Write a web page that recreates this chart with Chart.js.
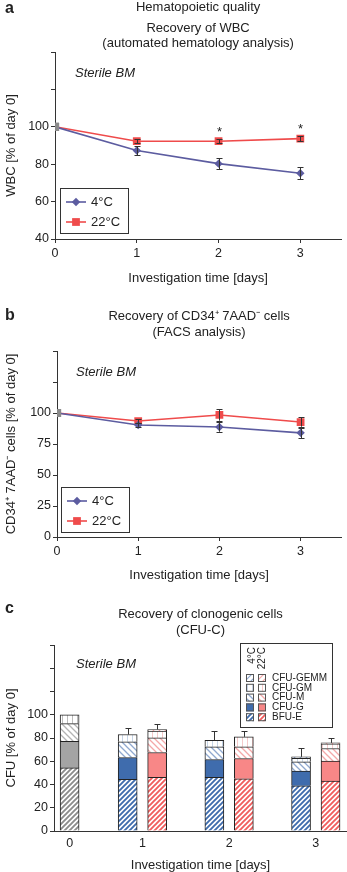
<!DOCTYPE html>
<html>
<head>
<meta charset="utf-8">
<script src="https://cdn.jsdelivr.net/npm/chart.js@4/dist/chart.umd.min.js"></script>
<style>
  body { margin: 0; background: #fff; width: 347px; height: 872px; overflow: hidden; position: relative; }
  .panel { position: absolute; left: 0; width: 347px; }
</style>
</head>
<body>
<div class="panel" style="top:0;height:290px"><canvas id="wbc"></canvas></div>
<div class="panel" style="top:290px;height:300px"><canvas id="cd34"></canvas></div>
<div class="panel" style="top:590px;height:282px"><canvas id="cfu"></canvas></div>

<script>
// ---- data ----
const days = [0, 1, 2, 3];
const seriesNames = ['4°C', '22°C'];

// a: WBC recovery (% of day 0)
const wbc4 = [100, 87.3, 80.3, 75.2];
const wbc4Err = [0, 2.4, 3.1, 3.3];
const wbc22 = [100, 92.3, 92.3, 93.7];
const wbc22Err = [0, 1.1, 1.1, 1.3];
const wbcSignif = [false, false, true, true];

// b: CD34+ 7AAD- cells (% of day 0)
const cd34_4 = [100, 90.3, 88.7, 84.0];
const cd34_4Err = [0, 1.4, 3.8, 4.3];
const cd34_22 = [100, 93.5, 98.4, 92.7];
const cd34_22Err = [0, 1.6, 4.6, 3.8];

// c: CFU-C (% of day 0); day 0 = fresh sample, only one bar
const cfuDays = ['0', '1', '2', '3'];
const cfuParts = ['BFU-E', 'CFU-G', 'CFU-M', 'CFU-GM', 'CFU-GEMM'];
const bfuE4    = [54.3, 44.4, 46.1, 38.9];
const cfuG4    = [22.9, 18.8, 15.4, 12.6];
const cfuM4    = [15.2, 13.5, 10.9, 8.0];
const cfuGM4   = [7.6, 6.3, 5.7, 3.0];
const cfuGEMM4 = [null, null, null, 1.3];
const cfuErr4  = [0, 5.7, 8.0, 7.2];
const bfuE22    = [null, 46.1, 44.9, 42.9];
const cfuG22    = [null, 21.4, 17.5, 17.2];
const cfuM22    = [null, 12.6, 10.0, 10.9];
const cfuGM22   = [null, 5.9, 8.6, 4.0];
const cfuGEMM22 = [null, 1.3, null, 0.8];
const cfuErr22  = [null, 5.1, 5.1, 4.3];

// ---- look ----
const FONT = '"Liberation Sans", Arial, Helvetica, sans-serif';
Chart.defaults.font.family = FONT;
Chart.defaults.font.size = 12;
Chart.defaults.color = '#222';
Chart.defaults.animation = false;
Chart.defaults.plugins.legend.display = false;
Chart.defaults.plugins.tooltip.enabled = false;

const col4 = '#5c5ca0';
const col22 = '#ef4b4b';
const grey0 = '#8a8a8a';

// error bars (line: both ways, bars: upward from stack top)
const errorBars = {
  id: 'errorBars',
  afterDatasetsDraw(chart) {
    const { ctx, scales: { x, y } } = chart;
    ctx.save();
    ctx.strokeStyle = '#333';
    ctx.lineWidth = 1;
    chart.data.datasets.forEach(ds => {
      if (!ds.errorBars) return;
      ds.errorBars.forEach((err, i) => {
        if (!err) return;
        const px = Math.round(x.getPixelForValue(ds.data[i].x)) + 0.5;
        const mid = ds.errTops ? ds.errTops[i] : ds.data[i].y;
        const hi = Math.round(y.getPixelForValue(mid + err)) + 0.5;
        const lo = y.getPixelForValue(ds.errTops ? mid : mid - err);
        ctx.beginPath();
        ctx.moveTo(px, lo); ctx.lineTo(px, hi);
        ctx.moveTo(px - 3, hi); ctx.lineTo(px + 3, hi);
        if (!ds.errTops) { ctx.moveTo(px - 3, Math.round(lo) + 0.5); ctx.lineTo(px + 3, Math.round(lo) + 0.5); }
        ctx.stroke();
        if (ds.signif && ds.signif[i]) {
          ctx.fillStyle = '#222';
          ctx.font = '13px ' + FONT;
          ctx.textAlign = 'center';
          ctx.textBaseline = 'alphabetic';
          ctx.fillText('*', px, hi - 4);
        }
      });
    });
    ctx.restore();
  }
};

// panel letter, headings, note, legends
const decor = {
  id: 'decor',
  afterDraw(chart, args, o) {
    const ctx = chart.ctx, area = chart.chartArea;
    ctx.save();
    ctx.fillStyle = '#222';
    ctx.font = 'bold 16px ' + FONT;
    ctx.textAlign = 'left';
    ctx.textBaseline = 'alphabetic';
    ctx.fillText(o.letter, 5, o.letterY);

    ctx.font = '13px ' + FONT;
    ctx.textAlign = 'center';
    ctx.textBaseline = 'middle';
    const cx = (area.left + area.right) / 2;
    o.heading.forEach(([t, y]) => ctx.fillText(t, cx, y));

    ctx.font = 'italic 13px ' + FONT;
    ctx.textAlign = 'left';
    ctx.fillText('Sterile BM', o.note[0], o.note[1]);

    if (o.legend) {
      const L = o.legend;
      ctx.strokeStyle = '#333';
      ctx.lineWidth = 1;
      ctx.strokeRect(L.x + 0.5, L.y + 0.5, L.w, L.h);
      chart.data.datasets.forEach((ds, k) => {
        const yy = L.y + 14 + k * 20;
        ctx.strokeStyle = ds.borderColor;
        ctx.lineWidth = 1.6;
        ctx.beginPath();
        ctx.moveTo(L.x + 6, yy); ctx.lineTo(L.x + 26, yy);
        ctx.stroke();
        ctx.fillStyle = ds.borderColor;
        Chart.helpers.drawPoint(ctx, { pointStyle: ds.legendStyle, radius: ds.legendRadius, borderWidth: 0, rotation: 0 }, L.x + 16, yy);
        ctx.fillStyle = '#222';
        ctx.font = '13px ' + FONT;
        ctx.fillText(ds.label, L.x + 31, yy);
      });
    }

    if (o.cfuLegend) {
      const L = o.cfuLegend;
      ctx.strokeStyle = '#333';
      ctx.lineWidth = 1;
      ctx.strokeRect(L.x + 0.5, L.y + 0.5, L.w, L.h);
      ctx.font = '10px ' + FONT;
      ctx.fillStyle = '#222';
      seriesNames.forEach((s, k) => {
        ctx.save();
        ctx.translate(L.x + 12 + k * 10, L.y + 4);
        ctx.rotate(-Math.PI / 2);
        ctx.textAlign = 'right';
        ctx.textBaseline = 'middle';
        ctx.fillText(s, 0, 0);
        ctx.restore();
      });
      const rows = cfuParts.slice().reverse();
      rows.forEach((name, r) => {
        const yy = L.y + 35 + r * 9.8;
        [fills4, fills22].forEach((f, k) => {
          const sx = L.x + 6 + k * 12;
          ctx.fillStyle = f[name];
          ctx.fillRect(sx, yy - 4, 8, 8);
          ctx.strokeStyle = '#555';
          ctx.strokeRect(sx + 0.5, yy - 3.5, 7, 7);
        });
        ctx.fillStyle = '#222';
        ctx.textAlign = 'left';
        ctx.textBaseline = 'middle';
        ctx.fillText(name, L.x + 32, yy);
      });
    }
    ctx.restore();
  }
};

function yAxis(min, max, step, title, width) {
  return {
    min, max,
    ticks: { stepSize: step, padding: 2, font: { size: 12.5 }, callback: v => (v <= 100 ? v : '') },
    grid: { drawOnChartArea: false, tickLength: 4, color: '#333' },
    border: { color: '#333' },
    title: { display: true, text: title, font: { size: 13 }, padding: { top: 4, bottom: 0 } },
    afterFit: s => { s.width = width; }
  };
}

function xAxisLine(height, titlePad) {
  return {
    type: 'linear', min: 0, max: 3.5, offset: false,
    ticks: { stepSize: 1, includeBounds: false, padding: 3, font: { size: 12.5 } },
    grid: { drawOnChartArea: false, tickLength: 4, color: '#333', offset: false },
    border: { color: '#333' },
    title: { display: true, text: 'Investigation time [days]', font: { size: 13 }, padding: { top: 0, bottom: titlePad } },
    afterFit: s => { s.height = height; }
  };
}

function lineSet(label, values, errs, color, style, r) {
  return {
    label,
    data: values.map((v, i) => ({ x: days[i], y: v })),
    errorBars: errs,
    borderColor: color,
    borderWidth: 1.6,
    pointStyle: values.map((v, i) => (i === 0 ? 'rect' : style)),
    pointRadius: values.map((v, i) => (i === 0 ? 5.8 : r)),
    pointBackgroundColor: values.map((v, i) => (i === 0 ? grey0 : color)),
    pointBorderColor: values.map((v, i) => (i === 0 ? grey0 : color)),
    pointBorderWidth: 0,
    legendStyle: style,
    legendRadius: r
  };
}

// ---- a ----
const wbc4Set = lineSet(seriesNames[0], wbc4, wbc4Err, col4, 'rectRot', 4.2);
const wbc22Set = lineSet(seriesNames[1], wbc22, wbc22Err, col22, 'rect', 5.5);
wbc22Set.signif = wbcSignif;
new Chart(document.getElementById('wbc'), {
  type: 'line',
  data: { datasets: [wbc4Set, wbc22Set] },
  options: {
    responsive: true, maintainAspectRatio: false,
    layout: { padding: { top: 52, right: 0, bottom: 0, left: 0 } },
    scales: { x: xAxisLine(51, 4), y: yAxis(40, 140, 20, 'WBC [% of day 0]', 55) },
    plugins: {
      decor: {
        letter: 'a', letterY: 13,
        heading: [['Hematopoietic quality', 7], ['Recovery of WBC', 28], ['(automated hematology analysis)', 43]],
        note: [75, 73],
        legend: { x: 60, y: 188, w: 68, h: 45 }
      }
    }
  },
  plugins: [errorBars, decor]
});

// ---- b ----
new Chart(document.getElementById('cd34'), {
  type: 'line',
  data: {
    datasets: [
      lineSet(seriesNames[0], cd34_4, cd34_4Err, col4, 'rectRot', 4.2),
      lineSet(seriesNames[1], cd34_22, cd34_22Err, col22, 'rect', 5.5)
    ]
  },
  options: {
    responsive: true, maintainAspectRatio: false,
    layout: { padding: { top: 61, right: 0, bottom: 0, left: 0 } },
    scales: { x: xAxisLine(53, 7), y: yAxis(0, 150, 25, 'CD34⁺ 7AAD⁻ cells [% of day 0]', 57) },
    plugins: {
      decor: {
        letter: 'b', letterY: 30,
        heading: [['Recovery of CD34⁺ 7AAD⁻ cells', 26], ['(FACS analysis)', 42]],
        note: [76, 82],
        legend: { x: 61, y: 197, w: 68, h: 45 }
      }
    }
  },
  plugins: [errorBars, decor]
});

// ---- c ----
const cfuCanvas = document.getElementById('cfu');
const pctx = cfuCanvas.getContext('2d');

function pattern(stroke, kind, size, lw) {
  const c = document.createElement('canvas');
  c.width = c.height = size;
  const g = c.getContext('2d');
  g.fillStyle = '#fff';
  g.fillRect(0, 0, size, size);
  g.strokeStyle = stroke;
  g.lineWidth = lw;
  g.beginPath();
  if (kind === '/') {
    g.moveTo(-1, size + 1); g.lineTo(size + 1, -1);
    g.moveTo(-1, 1); g.lineTo(1, -1);
    g.moveTo(size - 1, size + 1); g.lineTo(size + 1, size - 1);
  } else if (kind === '\\') {
    g.moveTo(-1, -1); g.lineTo(size + 1, size + 1);
    g.moveTo(size - 1, -1); g.lineTo(size + 1, 1);
    g.moveTo(-1, size - 1); g.lineTo(1, size + 1);
  } else {
    g.moveTo(size / 2, 0); g.lineTo(size / 2, size);
  }
  g.stroke();
  return pctx.createPattern(c, 'repeat');
}

function fillSet(dark, solid, light, pale) {
  return {
    'BFU-E': pattern(dark, '/', 5, 1.9),
    'CFU-G': solid,
    'CFU-M': pattern(light, '\\', 6, 1.3),
    'CFU-GM': pattern(pale, '|', 5, 1),
    'CFU-GEMM': pattern(light, '/', 6, 1.2)
  };
}
const fills4 = fillSet('#3f6cad', '#3f6cad', '#8fa8cf', '#c6d4e6');
const fills22 = fillSet('#f05e5e', '#f88787', '#f4a8a8', '#f5caca');
const fills0 = fillSet('#8c8c8c', '#a4a4a4', '#b4b4b4', '#bcbcbc');

// bar placement on the linear day axis
const firstBarX = 0.16;
const pairOffset = 0.17;
const groupX = cfuDays.map((d, i) => (i === 0 ? firstBarX : i));

const values4 = [bfuE4, cfuG4, cfuM4, cfuGM4, cfuGEMM4];
const values22 = [bfuE22, cfuG22, cfuM22, cfuGM22, cfuGEMM22];
const sum = arrs => cfuDays.map((d, i) => arrs.reduce((a, s) => a + (s[i] || 0), 0));
const tops4 = sum(values4);
const tops22 = sum(values22);

const cfuSets = [];
cfuParts.forEach((name, p) => {
  cfuSets.push({
    label: name + ' 4°C', stack: 's4',
    data: values4[p].map((v, i) => ({ x: i === 0 ? firstBarX : i - pairOffset, y: v })),
    backgroundColor: c => (c.dataIndex === 0 ? fills0[name] : fills4[name]),
    errorBars: p === cfuParts.length - 1 ? cfuErr4 : null,
    errTops: tops4
  });
  cfuSets.push({
    label: name + ' 22°C', stack: 's22',
    data: values22[p].map((v, i) => ({ x: i + pairOffset, y: v })),
    backgroundColor: fills22[name],
    errorBars: p === cfuParts.length - 1 ? cfuErr22 : null,
    errTops: tops22
  });
});

new Chart(cfuCanvas, {
  type: 'bar',
  data: { datasets: cfuSets },
  options: {
    responsive: true, maintainAspectRatio: false,
    layout: { padding: { top: 55, right: 0, bottom: 0, left: 0 } },
    datasets: { bar: { grouped: false, barThickness: 19, borderColor: '#222', borderWidth: 1 } },
    scales: {
      x: {
        type: 'linear', min: -0.02, max: 3.36, offset: false,
        afterBuildTicks: s => { s.ticks = groupX.map(v => ({ value: v })); },
        ticks: { padding: 5, font: { size: 12.5 }, callback: (v, i) => cfuDays[i] },
        grid: { drawOnChartArea: false, drawTicks: false, offset: false },
        border: { color: '#333' },
        title: { display: true, text: 'Investigation time [days]', font: { size: 13, lineHeight: 1 }, padding: { top: 0, bottom: 0 } },
        afterFit: s => { s.height = 41; }
      },
      y: Object.assign(yAxis(0, 160, 20, 'CFU [% of day 0]', 54), { stacked: true })
    },
    plugins: {
      decor: {
        letter: 'c', letterY: 23,
        heading: [['Recovery of clonogenic cells', 24], ['(CFU-C)', 40]],
        note: [76, 74],
        cfuLegend: { x: 240, y: 53, w: 92, h: 84 }
      }
    }
  },
  plugins: [errorBars, decor]
});
</script>
</body>
</html>
